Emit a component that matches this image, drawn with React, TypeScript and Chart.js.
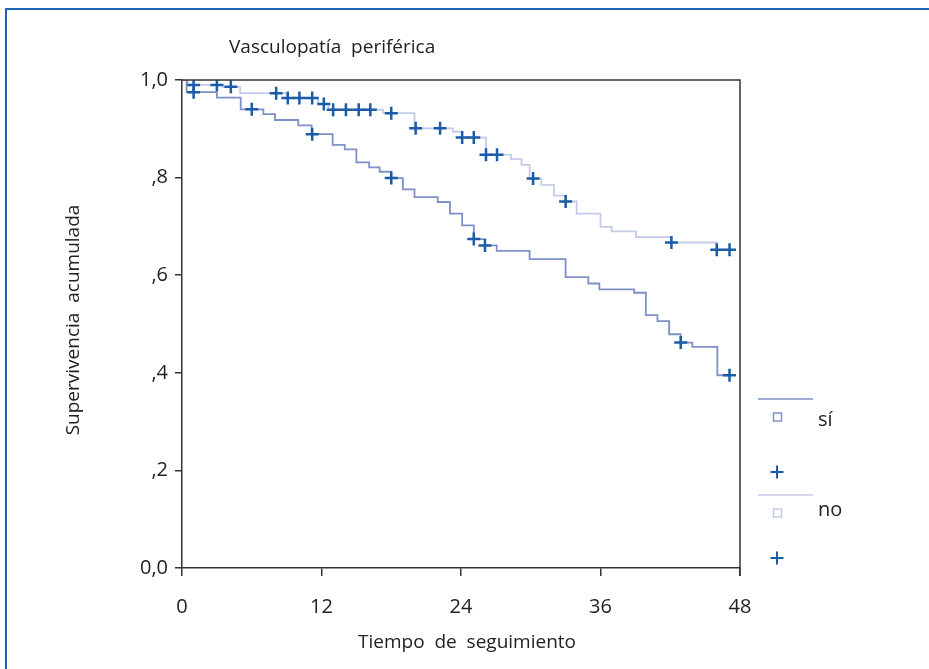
import React, { useEffect, useRef } from "react";
import { Chart, registerables } from "chart.js";

Chart.register(...registerables);

// ---- Data ----
const siStepTimes = [0, 0.4, 3.0, 5.05, 7.0, 8.0, 10.0, 11.15, 12.96, 14.0, 15.0, 16.1, 17.0, 18.0, 19.0, 20.0, 22.0, 23.05, 24.1, 25.1, 26.06, 27.07, 29.9, 33.0, 34.95, 35.9, 38.9, 39.9, 40.9, 41.9, 42.9, 43.9, 46.05, 47.1];
const siStepValues = [1.0, 0.975, 0.964, 0.94, 0.93, 0.918, 0.907, 0.889, 0.867, 0.858, 0.831, 0.821, 0.812, 0.799, 0.776, 0.76, 0.75, 0.726, 0.702, 0.674, 0.661, 0.65, 0.633, 0.596, 0.583, 0.571, 0.564, 0.518, 0.506, 0.479, 0.462, 0.453, 0.395, 0.395];
const siCensorTimes = [1.0, 6.0, 11.2, 18.0, 25.1, 26.06, 42.9, 47.1];
const siCensorValues = [0.975, 0.94, 0.889, 0.799, 0.674, 0.661, 0.462, 0.395];

const noStepTimes = [0, 0.5, 3.5, 5.0, 9.0, 11.7, 12.6, 17.3, 20.0, 23.3, 24.1, 26.15, 28.3, 29.2, 29.9, 30.9, 32.0, 33.0, 33.95, 36.0, 36.96, 39.05, 42.1, 46.0, 47.1];
const noStepValues = [1.0, 0.99, 0.986, 0.973, 0.963, 0.951, 0.939, 0.932, 0.901, 0.894, 0.882, 0.847, 0.838, 0.826, 0.798, 0.785, 0.763, 0.751, 0.726, 0.699, 0.69, 0.678, 0.667, 0.652, 0.652];
const noCensorTimes = [1.0, 3.0, 4.2, 8.1, 9.1, 10.1, 11.2, 12.2, 13.0, 14.1, 15.2, 16.2, 18.0, 20.1, 22.2, 24.1, 25.1, 26.15, 27.1, 30.2, 33.0, 42.1, 46.0, 47.1];
const noCensorValues = [0.99, 0.99, 0.986, 0.973, 0.963, 0.963, 0.963, 0.951, 0.939, 0.939, 0.939, 0.939, 0.932, 0.901, 0.901, 0.882, 0.882, 0.847, 0.847, 0.798, 0.751, 0.667, 0.652, 0.652];

const xTickValues = [0, 12, 24, 36, 48];
const xTickLabels = ["0", "12", "24", "36", "48"];
const yTickValues = [0, 0.2, 0.4, 0.6, 0.8, 1.0];
const yTickLabels = ["0,0", ",2", ",4", ",6", ",8", "1,0"];
const groupNames = ["sí", "no"];
const chartTitle = "Vasculopatía  periférica";
const xTitle = "Tiempo  de  seguimiento";
const yTitle = "Supervivencia  acumulada";

// ---- Styles ----
const SI_COLOR = "#7f90c8";
const NO_COLOR = "#c4cbe7";
const CENSOR_COLOR = "#1a5ca8";
const AXIS_COLOR = "#333333";
const FONT = "'Open Sans', 'Noto Sans', sans-serif";

const zip = (xs: number[], ys: number[]) => xs.map((x, i) => ({ x, y: ys[i] }));

const decorPlugin = {
  id: "decor",
  afterDraw(chart: any) {
    const { ctx, chartArea } = chart;
    ctx.save();
    // outer blue frame (top and left)
    ctx.strokeStyle = "#1f63b5";
    ctx.lineWidth = 2;
    ctx.beginPath();
    ctx.moveTo(6, 669);
    ctx.lineTo(6, 9);
    ctx.lineTo(929, 9);
    ctx.stroke();

    // plot box top & right
    ctx.strokeStyle = AXIS_COLOR;
    ctx.lineWidth = 1.5;
    ctx.beginPath();
    ctx.moveTo(chartArea.left, chartArea.top);
    ctx.lineTo(chartArea.right, chartArea.top);
    ctx.lineTo(chartArea.right, chartArea.bottom + 8);
    ctx.stroke();

    ctx.fillStyle = "#222";
    ctx.font = `19px ${FONT}`;
    ctx.textBaseline = "middle";
    ctx.textAlign = "left";
    ctx.fillText(chartTitle, 229, 48);

    ctx.textAlign = "center";
    ctx.fillText(xTitle, 467, 643);

    ctx.save();
    ctx.translate(74, 320);
    ctx.rotate(-Math.PI / 2);
    ctx.fillText(yTitle, 0, 0);
    ctx.restore();

    // legend
    const colors = [SI_COLOR, NO_COLOR];
    const baseY = [399, 495];
    for (let i = 0; i < 2; i++) {
      const y0 = baseY[i];
      ctx.strokeStyle = colors[i];
      ctx.lineWidth = 1.5;
      ctx.beginPath();
      ctx.moveTo(758, y0);
      ctx.lineTo(813, y0);
      ctx.stroke();
      ctx.strokeRect(773.5, y0 + 14, 8, 8);
      ctx.fillStyle = "#222";
      ctx.font = `20px ${FONT}`;
      ctx.textAlign = "left";
      ctx.fillText(groupNames[i], 818, y0 + (i === 0 ? 21 : 15));
      ctx.strokeStyle = CENSOR_COLOR;
      ctx.lineWidth = 2;
      const cy = y0 + (i === 0 ? 73 : 63);
      ctx.beginPath();
      ctx.moveTo(770.5, cy);
      ctx.lineTo(783.5, cy);
      ctx.moveTo(777, cy - 6.5);
      ctx.lineTo(777, cy + 6.5);
      ctx.stroke();
    }
    ctx.restore();
  },
};

export default function App() {
  const ref = useRef<HTMLCanvasElement | null>(null);
  useEffect(() => {
    if (!ref.current) return;
    const chart = new Chart(ref.current, {
      type: "line",
      data: {
        datasets: [
          {
            label: "no",
            data: zip(noStepTimes, noStepValues),
            borderColor: NO_COLOR,
            borderWidth: 1.8,
            stepped: "before",
            pointRadius: 0,
            fill: false,
            order: 3,
          },
          {
            label: "sí",
            data: zip(siStepTimes, siStepValues),
            borderColor: SI_COLOR,
            borderWidth: 1.8,
            stepped: "before",
            pointRadius: 0,
            fill: false,
            order: 2,
          },
          {
            type: "scatter",
            label: "no censurado",
            data: zip(noCensorTimes, noCensorValues),
            pointStyle: "cross",
            pointRadius: 6.5,
            borderColor: CENSOR_COLOR,
            backgroundColor: CENSOR_COLOR,
            pointBorderWidth: 2.5,
            showLine: false,
            order: 1,
          },
          {
            type: "scatter",
            label: "sí censurado",
            data: zip(siCensorTimes, siCensorValues),
            pointStyle: "cross",
            pointRadius: 6.5,
            borderColor: CENSOR_COLOR,
            backgroundColor: CENSOR_COLOR,
            pointBorderWidth: 2.5,
            showLine: false,
            order: 1,
          },
        ] as any,
      },
      options: {
        animation: false,
        responsive: false,
        devicePixelRatio: 1,
        layout: { padding: { left: 122, right: 189, top: 80, bottom: 41 } },
        plugins: { legend: { display: false }, tooltip: { enabled: false }, title: { display: false } },
        scales: {
          x: {
            type: "linear",
            min: 0,
            max: 48,
            afterFit: (s: any) => { s.height = 60; },
            afterBuildTicks: (s: any) => { s.ticks = xTickValues.map((v) => ({ value: v })); },
            ticks: {
              callback: (_v: any, i: number) => xTickLabels[i],
              color: "#222",
              font: { family: FONT, size: 20 },
              padding: 19,
              maxRotation: 0,
            },
            grid: { display: true, drawOnChartArea: false, drawTicks: true, tickLength: 8, color: AXIS_COLOR, lineWidth: 1.5 },
            border: { display: true, color: AXIS_COLOR, width: 1.5 },
          },
          y: {
            type: "linear",
            min: 0,
            max: 1,
            afterFit: (s: any) => { s.width = 60; },
            afterBuildTicks: (s: any) => { s.ticks = yTickValues.map((v) => ({ value: v })); },
            ticks: {
              callback: (_v: any, i: number) => yTickLabels[i],
              color: "#222",
              font: { family: FONT, size: 20 },
              padding: 7,
            },
            grid: { display: true, drawOnChartArea: false, drawTicks: true, tickLength: 7, color: AXIS_COLOR, lineWidth: 1.5 },
            border: { display: true, color: AXIS_COLOR, width: 1.5 },
          },
        },
      },
      plugins: [decorPlugin],
    });
    return () => chart.destroy();
  }, []);
  return (
    <div style={{ position: "absolute", left: 0, top: 0, width: 929, height: 669, background: "#fff" }}>
      <canvas ref={ref} width={929} height={669} style={{ display: "block", width: 929, height: 669 }} />
    </div>
  );
}
